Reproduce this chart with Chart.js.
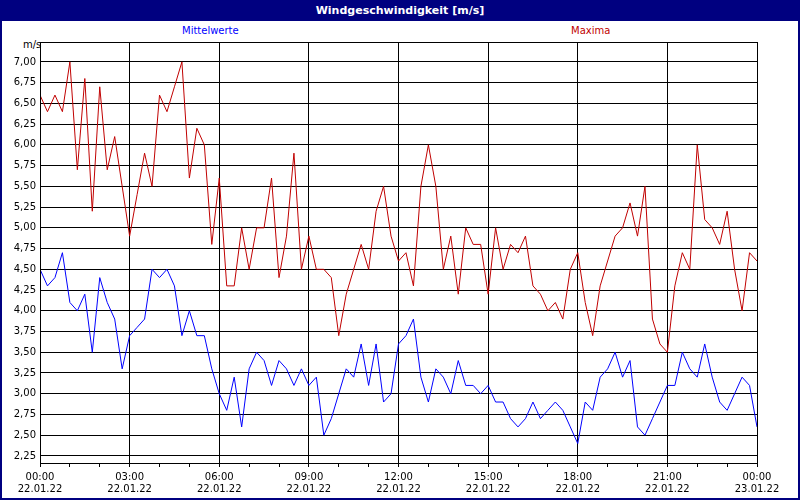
<!DOCTYPE html>
<html><head><meta charset="utf-8">
<script src="https://cdn.jsdelivr.net/npm/chart.js@4"></script>
<style>
body{margin:0;width:800px;height:500px;overflow:hidden;font-family:"DejaVu Sans",sans-serif;}
#wrap{position:absolute;left:0;top:0;width:796px;height:496px;border:2px solid #000080;background:#fff;}
#title{position:absolute;left:0;top:0;width:796px;height:19px;background:#000080;color:#fff;font-weight:bold;font-size:11px;text-align:center;line-height:17px;}
.lab{position:absolute;font-size:10px;}
#cv{position:absolute;left:-2px;top:18px;}
</style></head><body>
<div id="wrap">
<div id="title">Windgeschwindigkeit [m/s]</div>
<div class="lab" style="left:180px;top:23px;color:#0000ff">Mittelwerte</div>
<div class="lab" style="left:569px;top:23px;color:#c00000">Maxima</div>
<div class="lab" style="left:21px;top:37px;color:#000">m/s</div>
<canvas id="cv" width="800" height="480"></canvas>
</div>
<script>
const hours = [];
for (let i = 0; i <= 96; i++) hours.push(i / 4);
const maxima = [6.6,6.4,6.6,6.4,7.0,5.7,6.8,5.2,6.7,5.7,6.1,5.5,4.9,5.4,5.9,5.5,6.6,6.4,6.7,7.0,5.6,6.2,6.0,4.8,5.6,4.3,4.3,5.0,4.5,5.0,5.0,5.6,4.4,4.9,5.9,4.5,4.9,4.5,4.5,4.4,3.7,4.2,4.5,4.8,4.5,5.2,5.5,4.9,4.6,4.7,4.3,5.5,6.0,5.5,4.5,4.9,4.2,5.0,4.8,4.8,4.2,5.0,4.5,4.8,4.7,4.9,4.3,4.2,4.0,4.1,3.9,4.5,4.7,4.1,3.7,4.3,4.6,4.9,5.0,5.3,4.9,5.5,3.9,3.6,3.5,4.3,4.7,4.5,6.0,5.1,5.0,4.8,5.2,4.5,4.0,4.7,4.6,4.5,4.1];
const mittel = [4.5,4.3,4.4,4.7,4.1,4.0,4.2,3.5,4.4,4.1,3.9,3.3,3.7,3.8,3.9,4.5,4.4,4.5,4.3,3.7,4.0,3.7,3.7,3.3,3.0,2.8,3.2,2.6,3.3,3.5,3.4,3.1,3.4,3.3,3.1,3.3,3.1,3.2,2.5,2.7,3.0,3.3,3.2,3.6,3.1,3.6,2.9,3.0,3.6,3.7,3.9,3.2,2.9,3.3,3.2,3.0,3.4,3.1,3.1,3.0,3.1,2.9,2.9,2.7,2.6,2.7,2.9,2.7,2.8,2.9,2.8,2.6,2.4,2.9,2.8,3.2,3.3,3.5,3.2,3.4,2.6,2.5,2.7,2.9,3.1,3.1,3.5,3.3,3.2,3.6,3.2,2.9,2.8,3.0,3.2,3.1,2.6];
const yTicks = [2.25,2.5,2.75,3,3.25,3.5,3.75,4,4.25,4.5,4.75,5,5.25,5.5,5.75,6,6.25,6.5,6.75,7];
const xTickLabels = {0:["00:00","22.01.22"],3:["03:00","22.01.22"],6:["06:00","22.01.22"],9:["09:00","22.01.22"],12:["12:00","22.01.22"],15:["15:00","22.01.22"],18:["18:00","22.01.22"],21:["21:00","22.01.22"],24:["00:00","23.01.22"]};

const frame = {id:'frame',afterDraw(c){const a=c.chartArea,x=c.ctx;x.save();x.strokeStyle='#000';x.lineWidth=1;x.strokeRect(Math.round(a.left)+0.5,Math.round(a.top)+0.5,Math.round(a.right-a.left),Math.round(a.bottom-a.top));x.restore();}};
new Chart(document.getElementById('cv'),{
 type:'line',
 data:{datasets:[
  {data:hours.map((h,i)=>({x:h,y:maxima[i]})),borderColor:'#c00000',borderWidth:1,pointRadius:0,tension:0},
  {data:hours.map((h,i)=>({x:h,y:mittel[i]})),borderColor:'#0000ff',borderWidth:1,pointRadius:0,tension:0}
 ]},
 options:{responsive:false,animation:false,
  layout:{padding:{top:22,right:43,left:0,bottom:0}},
  plugins:{legend:{display:false},tooltip:{enabled:false}},
  scales:{
   x:{type:'linear',min:0,max:24,
    afterBuildTicks(s){s.ticks=[];for(let h=0;h<=24;h++)s.ticks.push({value:h});},
    afterFit(s){s.height=37;},
    border:{display:true,color:'#000'},
    grid:{color:c=>(c.tick&&c.tick.value%3===0)?'#000':'rgba(0,0,0,0)',borderDash:[4,4],drawTicks:true,tickLength:4,tickColor:'#000'},
    ticks:{autoSkip:false,maxRotation:0,color:'#000',font:{family:'DejaVu Sans',size:10},padding:4,
     callback:v=>xTickLabels[v]||''}
   },
   y:{min:2.165,max:7.24,
    afterBuildTicks(s){s.ticks=yTicks.map(v=>({value:v}));},
    afterFit(s){s.width=40;},
    border:{display:true,color:'#000'},
    grid:{color:'#000',borderDash:[4,4],drawTicks:false},
    ticks:{color:'#000',font:{family:'DejaVu Sans',size:10},padding:4,
     callback:v=>v.toFixed(2).replace('.',',')}
   }
  }
 },
 plugins:[frame]
});
</script></body></html>
